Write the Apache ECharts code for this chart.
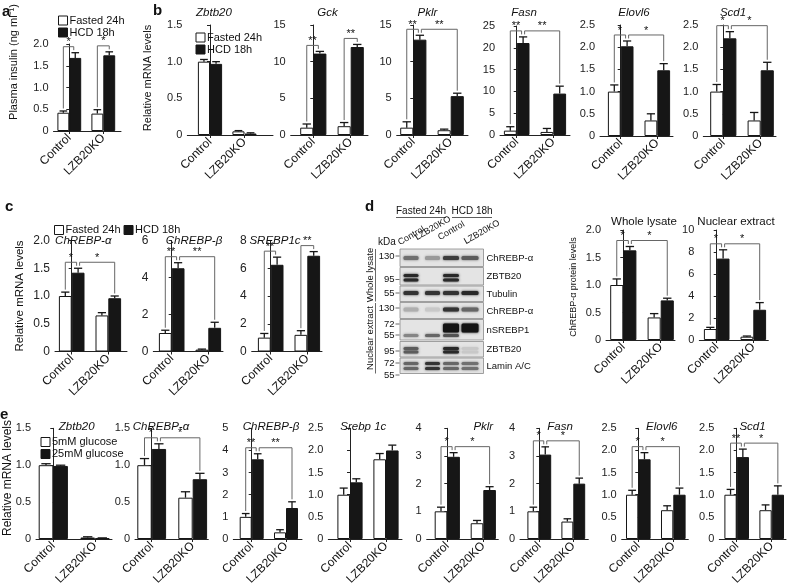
<!DOCTYPE html>
<html><head><meta charset="utf-8">
<script src="https://cdn.jsdelivr.net/npm/echarts@6/dist/echarts.min.js"></script>
<style>html,body{margin:0;padding:0;background:#fff}#c{width:788px;height:586px}</style>
</head><body><div id="c"></div>
<script>
// ---------------- DATA ----------------
const categories = ['Control', 'LZB20KO'];
const dietGroups = ['Fasted 24h', 'HCD 18h'];
const glucoseGroups = ['5mM glucose', '25mM glucose'];

// a: plasma insulin
const insulinFasted = [0.42, 0.40], insulinFastedErr = [0.04, 0.09];
const insulinHCD = [1.68, 1.74], insulinHCDErr = [0.12, 0.08];

// b: liver mRNA
const bZbtb20Fasted = [1.00, 0.05], bZbtb20FastedErr = [0.03, 0.01];
const bZbtb20HCD = [0.97, 0.02], bZbtb20HCDErr = [0.03, 0.01];
const bGckFasted = [1.0, 1.2], bGckFastedErr = [0.5, 0.5];
const bGckHCD = [11.1, 12.0], bGckHCDErr = [0.3, 0.35];
const bPklrFasted = [1.0, 0.65], bPklrFastedErr = [0.8, 0.15];
const bPklrHCD = [13.0, 5.3], bPklrHCDErr = [0.6, 0.4];
const bFasnFasted = [1.0, 0.7], bFasnFastedErr = [0.9, 0.8];
const bFasnHCD = [21.1, 9.5], bFasnHCDErr = [1.4, 1.7];
const bElovl6Fasted = [1.0, 0.35], bElovl6FastedErr = [0.15, 0.15];
const bElovl6HCD = [2.02, 1.48], bElovl6HCDErr = [0.12, 0.15];
const bScd1Fasted = [1.0, 0.35], bScd1FastedErr = [0.16, 0.18];
const bScd1HCD = [2.2, 1.48], bScd1HCDErr = [0.15, 0.18];

// c: ChREBP / SREBP1c mRNA
const cChrebpaFasted = [1.0, 0.65], cChrebpaFastedErr = [0.07, 0.05];
const cChrebpaHCD = [1.42, 0.96], cChrebpaHCDErr = [0.08, 0.04];
const cChrebpbFasted = [1.0, 0.1], cChrebpbFastedErr = [0.15, 0.03];
const cChrebpbHCD = [4.5, 1.28], cChrebpbHCDErr = [0.3, 0.3];
const cSrebp1cFasted = [1.0, 1.2], cSrebp1cFastedErr = [0.3, 0.3];
const cSrebp1cHCD = [6.25, 6.9], cSrebp1cHCDErr = [0.55, 0.3];

// d: ChREBP-alpha protein
const dWholeFasted = [1.0, 0.41], dWholeFastedErr = [0.11, 0.07];
const dWholeHCD = [1.63, 0.72], dWholeHCDErr = [0.07, 0.04];
const dNuclearFasted = [1.0, 0.3], dNuclearFastedErr = [0.15, 0.06];
const dNuclearHCD = [7.4, 2.75], dNuclearHCDErr = [0.8, 0.65];

// d: western blot band intensities (lanes: Control, LZB20KO, Control, LZB20KO)
const blotChrebpWhole = [0.55, 0.35, 0.8, 0.65];
const blotZbtb20Whole = [0.9, 0, 0.9, 0];
const blotTubulin = [0.85, 0.85, 0.85, 0.9];
const blotChrebpNuc = [0.25, 0.12, 0.85, 0.6];
const blotNsrebpUpper = [0, 0, 1, 1];
const blotNsrebpLower = [0.45, 0.6, 0.7, 0];
const blotZbtb20Nuc = [0.65, 0, 0.9, 0.12];
const blotLamin = [0.6, 0.85, 0.6, 0.55];

// e: hepatocytes mRNA
const eZbtb20Low = [1.0, 0.02], eZbtb20LowErr = [0.02, 0.01];
const eZbtb20High = [0.99, 0.01], eZbtb20HighErr = [0.01, 0.005];
const eChrebpaLow = [1.0, 0.56], eChrebpaLowErr = [0.09, 0.08];
const eChrebpaHigh = [1.22, 0.81], eChrebpaHighErr = [0.07, 0.08];
const eChrebpbLow = [1.0, 0.3], eChrebpbLowErr = [0.15, 0.12];
const eChrebpbHigh = [3.6, 1.4], eChrebpbHighErr = [0.25, 0.28];
const eSrebpLow = [1.0, 1.8], eSrebpLowErr = [0.15, 0.13];
const eSrebpHigh = [1.28, 2.0], eSrebpHighErr = [0.08, 0.12];
const ePklrLow = [1.0, 0.57], ePklrLowErr = [0.15, 0.1];
const ePklrHigh = [2.97, 1.77], ePklrHighErr = [0.15, 0.12];
const eFasnLow = [1.0, 0.63], eFasnLowErr = [0.15, 0.1];
const eFasnHigh = [3.05, 2.0], eFasnHighErr = [0.28, 0.2];
const eElovl6Low = [1.0, 0.65], eElovl6LowErr = [0.1, 0.1];
const eElovl6High = [1.8, 1.0], eElovl6HighErr = [0.15, 0.15];
const eScd1Low = [1.0, 0.65], eScd1LowErr = [0.12, 0.12];
const eScd1High = [1.85, 1.0], eScd1HighErr = [0.18, 0.2];

// ---------------- LAYOUT ----------------
const FONT = 'Liberation Sans, Arial, Helvetica, sans-serif';
// box: [axisLeft, axisRight, top(max), bottom(0)], centers: pixel x of Control / LZB20KO pairs
const charts = [
  {d:[insulinFasted, insulinFastedErr, insulinHCD, insulinHCDErr], names:dietGroups, max:2, step:0.5, box:[53.5,121,44,131], centers:[69.3,103.3], br:[[0,1,'*'],[2,3,'*']], tick:11},
  {d:[bZbtb20Fasted,bZbtb20FastedErr,bZbtb20HCD,bZbtb20HCDErr], names:dietGroups, max:1.5, step:0.5, box:[187.3,273,25,135], centers:[210,244.5], br:[], title:['Zbtb20',214,13], tick:11},
  {d:[bGckFasted,bGckFastedErr,bGckHCD,bGckHCDErr], names:dietGroups, max:15, step:5, box:[290.7,368,25,135], centers:[313.3,350.7], br:[[0,1,'**'],[2,3,'**']], title:['Gck',327.5,13], tick:11},
  {d:[bPklrFasted,bPklrFastedErr,bPklrHCD,bPklrHCDErr], names:dietGroups, max:15, step:5, box:[396.7,468,25,135], centers:[413.3,450.7], br:[[0,1,'**'],[1,3,'**']], title:['Pklr',427.5,13], tick:11},
  {d:[bFasnFasted,bFasnFastedErr,bFasnHCD,bFasnHCDErr], names:dietGroups, max:25, step:5, box:[500,570,26,135], centers:[516.7,553.3], br:[[0,1,'**'],[1,3,'**']], title:['Fasn',524,13], tick:11},
  {d:[bElovl6Fasted,bElovl6FastedErr,bElovl6HCD,bElovl6HCDErr], names:dietGroups, max:2.5, step:0.5, box:[600,673,25,136], centers:[620.7,657.3], br:[[0,1,'*'],[1,3,'*']], title:['Elovl6',634,13], tick:11},
  {d:[bScd1Fasted,bScd1FastedErr,bScd1HCD,bScd1HCDErr], names:dietGroups, max:2.5, step:0.5, box:[703.3,776,25,136], centers:[723.3,760.7], br:[[0,1,'*'],[1,3,'*']], title:['Scd1',733,13], tick:11},

  {d:[cChrebpaFasted,cChrebpaFastedErr,cChrebpaHCD,cChrebpaHCDErr], names:dietGroups, max:2, step:0.5, box:[55,127,240.5,351.5], centers:[71.7,108.3], br:[[0,1,'*'],[1,3,'*']], title:['ChREBP-α',83.3,240.5], tick:12},
  {d:[cChrebpbFasted,cChrebpbFastedErr,cChrebpbHCD,cChrebpbHCDErr], names:dietGroups, max:6, step:2, box:[153.3,223,240.5,351.5], centers:[171.7,208.3], br:[[0,1,'**'],[1,3,'**']], title:['ChREBP-β',194,240.5], tick:12},
  {d:[cSrebp1cFasted,cSrebp1cFastedErr,cSrebp1cHCD,cSrebp1cHCDErr], names:dietGroups, max:8, step:2, box:[251.7,322,240.5,351.5], centers:[270.7,307.3], br:[[0,1,'**'],[2,3,'**']], title:['SREBP1c',275,240.5], tick:12},

  {d:[dWholeFasted,dWholeFastedErr,dWholeHCD,dWholeHCDErr], names:dietGroups, max:2, step:0.5, box:[606,675,230,340], centers:[623.3,660.7], br:[[0,1,'*'],[1,3,'*']], title:['Whole lysate',644,221.5,false], tick:11},
  {d:[dNuclearFasted,dNuclearFastedErr,dNuclearHCD,dNuclearHCDErr], names:dietGroups, max:10, step:2, box:[699.3,768.3,230,340], centers:[716.7,753.3], br:[[0,1,'*'],[1,3,'*']], title:['Nuclear extract',736,221.5,false], tick:11},

  {d:[eZbtb20Low,eZbtb20LowErr,eZbtb20High,eZbtb20HighErr], names:glucoseGroups, max:1.5, step:0.5, box:[36,112,428.3,539], centers:[53.3,95], br:[], title:['Zbtb20',76.7,427], tick:11},
  {d:[eChrebpaLow,eChrebpaLowErr,eChrebpaHigh,eChrebpaHighErr], names:glucoseGroups, max:1.5, step:0.5, box:[135,208.3,428.3,539], centers:[151.7,192.7], br:[[0,1,'*'],[1,3,'*']], title:['ChREBP-α',161,427], tick:11},
  {d:[eChrebpbLow,eChrebpbLowErr,eChrebpbHigh,eChrebpbHighErr], names:glucoseGroups, max:5, step:1, box:[233.3,302,428.3,539], centers:[251.7,286], br:[[0,1,'**'],[1,3,'**']], title:['ChREBP-β',271,427], tick:11},
  {d:[eSrebpLow,eSrebpLowErr,eSrebpHigh,eSrebpHighErr], names:glucoseGroups, max:2.5, step:0.5, box:[328.3,402,428.3,539], centers:[350,386], br:[], title:['Srebp 1c',363.3,427], tick:11},
  {d:[ePklrLow,ePklrLowErr,ePklrHigh,ePklrHighErr], names:glucoseGroups, max:4, step:1, box:[426.7,498.3,428.3,539], centers:[447.3,483.3], br:[[0,1,'*'],[1,3,'*']], title:['Pklr',483.3,427], tick:11},
  {d:[eFasnLow,eFasnLowErr,eFasnHigh,eFasnHighErr], names:glucoseGroups, max:4, step:1, box:[520,588.3,428.3,539], centers:[539.3,573.3], br:[[0,1,'*'],[1,3,'*']], title:['Fasn',560,427], tick:11},
  {d:[eElovl6Low,eElovl6LowErr,eElovl6High,eElovl6HighErr], names:glucoseGroups, max:2.5, step:0.5, box:[621.7,688.3,428.3,539], centers:[638.3,673.3], br:[[0,1,'*'],[1,3,'*']], title:['Elovl6',661.7,427], tick:11},
  {d:[eScd1Low,eScd1LowErr,eScd1High,eScd1HighErr], names:glucoseGroups, max:2.5, step:0.5, box:[719.3,786,428.3,539], centers:[736.7,771.7], br:[[0,1,'**'],[1,3,'*']], title:['Scd1',752.5,427], tick:11}
];

const INK = '#161616';
const grid = [], xAxis = [], yAxis = [], series = [], graphics = [];

function txt(x, y, text, o) {
  o = o || {};
  graphics.push({type:'text', x:x, y:y, rotation:o.rot||0, silent:true, z:50,
    style:{text:text, fontFamily:FONT, fontSize:o.size||11, fontStyle:o.italic?'italic':'normal',
      fontWeight:o.bold?'bold':'normal', fill:o.color||'#111', align:o.align||'center', verticalAlign:o.va||'middle'}});
}
function line(x1, y1, x2, y2, o) {
  o = o || {};
  graphics.push({type:'line', silent:true, z:50, shape:{x1:x1,y1:y1,x2:x2,y2:y2}, style:{stroke:o.color||'#222', lineWidth:o.w||1}});
}

charts.forEach(function (ch, i) {
  const [x0, x1, yT, yB] = ch.box;
  const [c0, c1] = ch.centers;
  const s = c1 - c0;
  const bw = Math.round(0.35 * s * 10) / 10;
  const [low, lowErr, high, highErr] = ch.d;
  grid.push({left:x0, top:yT, width:x1 - x0, height:yB - yT, containLabel:false, outerBoundsMode:'none'});
  xAxis.push({gridIndex:i, type:'value', min:-(c0 - x0) / s, max:1 + (x1 - c1) / s, splitLine:{show:false},
    axisLine:{show:true, onZero:false, lineStyle:{color:'#222', width:1}},
    axisTick:{show:true, customValues:[0,1], length:3, lineStyle:{color:'#222'}},
    axisLabel:{show:true, customValues:[0,1], formatter:function (v) { return categories[Math.round(v)]; },
      rotate:45, fontSize:12, fontFamily:FONT, color:'#111', margin:5}});
  yAxis.push({gridIndex:i, type:'value', min:0, max:ch.max, interval:ch.step, splitLine:{show:false},
    axisLine:{show:true, lineStyle:{color:'#222', width:1}},
    axisTick:{show:true, length:3, lineStyle:{color:'#222'}},
    axisLabel:{fontSize:ch.tick, fontFamily:FONT, color:'#222', margin:5,
      formatter:function (v) { return v === 0 ? '0' : (ch.step < 1 ? v.toFixed(1) : String(v)); }}});
  series.push({type:'bar', name:ch.names[0], xAxisIndex:i, yAxisIndex:i, barWidth:bw, barGap:'0%', animation:false,
    data:low.map(function (v, k) { return [k, v]; }), itemStyle:{color:'#fff', borderColor:INK, borderWidth:1}, z:2});
  series.push({type:'bar', name:ch.names[1], xAxisIndex:i, yAxisIndex:i, barWidth:bw, barGap:'0%', animation:false,
    data:high.map(function (v, k) { return [k, v]; }), itemStyle:{color:INK, borderColor:INK, borderWidth:1}, z:2});
  // error bars
  const errData = [];
  low.forEach(function (v, k) { errData.push([k, v, lowErr[k], -1]); });
  high.forEach(function (v, k) { errData.push([k, v, highErr[k], 1]); });
  series.push({type:'custom', xAxisIndex:i, yAxisIndex:i, data:errData, encode:{x:0, y:1}, z:3, silent:true, animation:false, clip:false,
    renderItem:function (params, api) {
      const x = api.value(0), v = api.value(1), e = api.value(2), side = api.value(3);
      const p0 = api.coord([x, v]), p1 = api.coord([x, v + e]);
      const cx = p0[0] + side * bw / 2, cap = bw * 0.32;
      return {type:'group', children:[
        {type:'line', shape:{x1:cx, y1:p0[1], x2:cx, y2:p1[1]}, style:{stroke:INK, lineWidth:1.3}},
        {type:'line', shape:{x1:cx - cap, y1:p1[1], x2:cx + cap, y2:p1[1]}, style:{stroke:INK, lineWidth:1.3}}]};
    }});
  // significance brackets
  if (ch.br.length) {
    series.push({type:'custom', xAxisIndex:i, yAxisIndex:i, data:ch.br.map(function () { return [0, 0]; }), encode:{x:0, y:1},
      z:4, silent:true, animation:false, clip:false,
      renderItem:function (params, api) {
        const b = ch.br[params.dataIndex];
        function barInfo(k) {
          const cat = k < 2 ? 0 : 1, side = k % 2 === 0 ? -1 : 1;
          const v = side < 0 ? low[cat] : high[cat], e = side < 0 ? lowErr[cat] : highErr[cat];
          const base = api.coord([cat, v + e]);
          return {x: api.coord([cat, 0])[0] + side * bw / 2, top: base[1]};
        }
        let hTop = Infinity;
        for (let k = b[0]; k <= b[1]; k++) hTop = Math.min(hTop, barInfo(k).top);
        hTop -= 6;
        const A = barInfo(b[0]), B = barInfo(b[1]);
        const xa = A.x + (b[0] === 1 ? 1.5 : 0), xb = B.x - (b[1] === 1 ? 1.5 : 0);
        return {type:'group', children:[
          {type:'polyline', shape:{points:[[xa, A.top - 2.5], [xa, hTop], [xb, hTop], [xb, B.top - 2.5]]}, style:{stroke:'#666', lineWidth:1, fill:null}},
          {type:'text', x:(xa + xb) / 2, y:hTop + 1, style:{text:b[2], fontFamily:FONT, fontSize:11, fill:'#111', align:'center', verticalAlign:'bottom'}}]};
      }});
  }
  if (ch.title) {
    const t = ch.title;
    txt(t[1], t[2], t[0], {italic:t[3] !== false, size:t[3] === false ? 11.5 : 11.5});
  }
});

// panel letters
txt(2, 12, 'a', {bold:true, size:15, align:'left'});
txt(153, 11, 'b', {bold:true, size:15, align:'left'});
txt(5, 207, 'c', {bold:true, size:15, align:'left'});
txt(365, 207, 'd', {bold:true, size:15, align:'left'});
txt(0, 415, 'e', {bold:true, size:15, align:'left'});

// y-axis names
txt(14, 62, 'Plasma insulin (ng ml⁻¹)', {rot:Math.PI / 2, size:11});
txt(148, 78, 'Relative mRNA levels', {rot:Math.PI / 2, size:11});
txt(20, 296, 'Relative mRNA levels', {rot:Math.PI / 2, size:11.5});
txt(573.5, 287, 'ChREBP-α protein levels', {rot:Math.PI / 2, size:9});
txt(8, 478, 'Relative mRNA levels', {rot:Math.PI / 2, size:12});

// ---------------- western blot (panel d) ----------------
const laneX = [411, 432.5, 451, 470];
const laneW = [15, 15, 16, 17];
const blotRows = [
  {label:'ChREBP-α', top:249, bottom:266.5, bands:[[258, 4, blotChrebpWhole]], marks:[['130', 256]]},
  {label:'ZBTB20', top:267.5, bottom:285, bands:[[275.5, 3, blotZbtb20Whole], [280, 3, blotZbtb20Whole]], marks:[['95', 279.5]]},
  {label:'Tubulin', top:286, bottom:301.5, bands:[[293, 4, blotTubulin]], marks:[['55', 293]]},
  {label:'ChREBP-α', top:302.5, bottom:318.5, bands:[[309.5, 4, blotChrebpNuc]], marks:[['130', 308]]},
  {label:'nSREBP1', top:319.5, bottom:340, bands:[[328, 9, blotNsrebpUpper], [335.5, 3, blotNsrebpLower]], marks:[['72', 324], ['55', 335]]},
  {label:'ZBTB20', top:341.5, bottom:357, bands:[[348.5, 3, blotZbtb20Nuc], [352, 3, blotZbtb20Nuc]], marks:[['95', 351]]},
  {label:'Lamin A/C', top:358, bottom:373.5, bands:[[363.5, 3, blotLamin], [368.5, 3, blotLamin]], marks:[['72', 363], ['55', 375]]}
];
blotRows.forEach(function (r) {
  graphics.push({type:'rect', silent:true, z:40, shape:{x:400, y:r.top, width:83.5, height:r.bottom - r.top},
    style:{fill:'#e4e4e4', stroke:'#8a8a8a', lineWidth:0.8}});
  r.bands.forEach(function (b) {
    b[2].forEach(function (inten, l) {
      if (inten <= 0) return;
      const g = Math.round(225 - 205 * inten);
      const col = 'rgb(' + g + ',' + g + ',' + g + ')';
      graphics.push({type:'rect', silent:true, z:41, shape:{x:laneX[l] - laneW[l] / 2, y:b[0] - b[1] / 2, width:laneW[l], height:b[1], r:1.5},
        style:{fill:col, shadowBlur:2.5, shadowColor:col}});
    });
  });
  txt(486.5, (r.top + r.bottom) / 2 + 0.5, r.label, {align:'left', size:9.5});
  r.marks.forEach(function (m) {
    txt(394.5, m[1], m[0], {align:'right', size:9.5});
    line(395.5, m[1], 399.5, m[1], {color:'#444', w:0.8});
  });
});
txt(378, 242, 'kDa', {align:'left', size:10});
txt(421, 211, 'Fasted 24h', {size:10});
line(396, 217.5, 446, 217.5, {color:'#333', w:0.8});
txt(472, 211, 'HCD 18h', {size:10});
line(452, 217.5, 492, 217.5, {color:'#333', w:0.8});
const laneLabelPos = [[401, 247], [418, 242], [441, 242], [467, 246]];
['Control', 'LZB20KO', 'Control', 'LZB20KO'].forEach(function (t, l) {
  txt(laneLabelPos[l][0], laneLabelPos[l][1], t, {align:'left', va:'bottom', rot:Math.PI / 6, size:9});
});
txt(370, 275, 'Whole lysate', {rot:Math.PI / 2, size:9.5});
line(375.5, 249, 375.5, 301.5, {color:'#444', w:0.8});
txt(370, 338, 'Nuclear extract', {rot:Math.PI / 2, size:9.5});
line(375.5, 303, 375.5, 373.5, {color:'#444', w:0.8});

// ---------------- legends ----------------
function legendCfg(data, left, top, orient) {
  return {data:data, left:left, top:top, orient:orient, padding:0, itemWidth:9, itemHeight:9, itemGap:orient === 'vertical' ? 1 : 3,
    icon:'rect', selectedMode:false, itemStyle:{borderColor:INK, borderWidth:1},
    textStyle:{fontSize:11, fontFamily:FONT, color:'#111', padding:[0, 0, 0, -3]}};
}

const chart = echarts.init(document.getElementById('c'), null, {renderer:'canvas'});
chart.setOption({
  animation:false,
  backgroundColor:'#fff',
  textStyle:{fontFamily:FONT},
  grid:grid, xAxis:xAxis, yAxis:yAxis, series:series,
  legend:[legendCfg(dietGroups, 58, 15, 'vertical'), legendCfg(dietGroups, 195.5, 32, 'vertical'),
    legendCfg(dietGroups, 54, 224.5, 'horizontal'), legendCfg(glucoseGroups, 40.5, 436.5, 'vertical')],
  graphic:{elements:graphics}
});
</script></body></html>
